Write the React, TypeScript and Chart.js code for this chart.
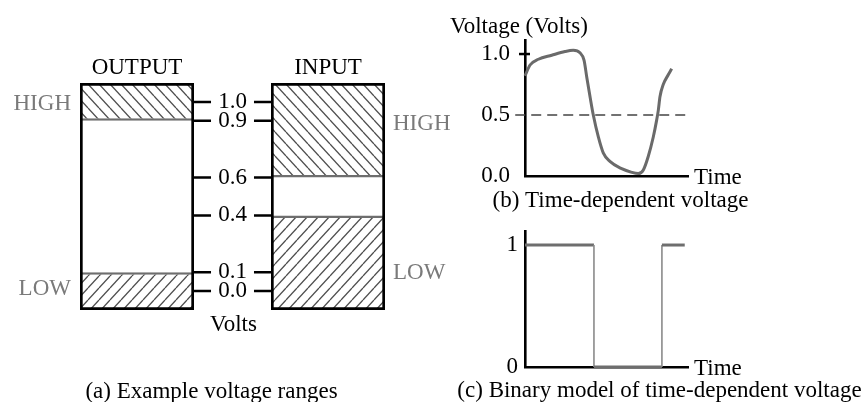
import React, { useEffect, useRef } from "react";
import { Chart, registerables } from "chart.js";

Chart.register(...registerables);

// ---------- data: (a) voltage ranges ----------
const rangeCategories = ["OUTPUT", "INPUT"];
const boxSpan: [number, number][] = [[-0.1, 1.1], [-0.1, 1.1]];
const highRanges: [number, number][] = [[0.9, 1.1], [0.6, 1.1]];
const lowRanges: [number, number][] = [[-0.1, 0.1], [-0.1, 0.4]];
const voltTicks = [1.0, 0.9, 0.6, 0.4, 0.1, 0.0];
const rangeLabels = ["HIGH", "LOW"];

// ---------- data: (b) time-dependent voltage ----------
const waveTime = [0, 0.31, 0.82, 1.64, 2.45, 2.96, 3.37, 3.62, 3.79, 3.99, 4.19, 4.5, 4.8, 5.21, 5.93, 6.55, 6.95, 7.26, 7.56, 7.87, 8.08, 8.18, 8.28, 8.48, 8.79, 9.0];
const waveVolts = [0.82, 0.91, 0.957, 0.99, 1.02, 1.03, 1.01, 0.95, 0.81, 0.65, 0.5, 0.32, 0.19, 0.12, 0.06, 0.03, 0.02, 0.05, 0.16, 0.32, 0.46, 0.54, 0.65, 0.75, 0.83, 0.88];
const thresholdTime = [-0.6, 9.95];
const thresholdVolts = [0.5, 0.5];
const waveTicks = [0, 0.5, 1.0];

// ---------- data: (c) binary model ----------
const binaryTime = [0, 4.23, 4.23, 8.4, 8.4, 9.8];
const binaryValue = [1, 1, 0, 0, 1, 1];
const binaryTicks = [0, 1];

const FAMILY = '"Liberation Serif", "Times New Roman", serif';
const FONT = `23px ${FAMILY}`;

function hatch(dir: "back" | "fwd"): CanvasPattern | string {
  const w = 11, h = 12;
  const c = document.createElement("canvas");
  c.width = w; c.height = h;
  const g = c.getContext("2d");
  if (!g) return "#fff";
  g.fillStyle = "#fff";
  g.fillRect(0, 0, w, h);
  g.strokeStyle = "#4d4d4d";
  g.lineWidth = 1.3;
  for (let k = -1; k <= 1; k++) {
    g.beginPath();
    if (dir === "back") { g.moveTo(k * w, 0); g.lineTo(k * w + w, h); }
    else { g.moveTo(k * w, h); g.lineTo(k * w + w, 0); }
    g.stroke();
  }
  return g.createPattern(c, "repeat") || "#fff";
}

const baseOpts = {
  responsive: false,
  animation: false as const,
  events: [] as any[],
  plugins: { legend: { display: false }, tooltip: { enabled: false }, title: { display: false } },
};

export default function App() {
  const aRef = useRef<HTMLCanvasElement>(null);
  const bRef = useRef<HTMLCanvasElement>(null);
  const cRef = useRef<HTMLCanvasElement>(null);

  useEffect(() => {
    Chart.defaults.font.family = FAMILY;
    Chart.defaults.font.size = 23;
    Chart.defaults.color = "#000";
    const charts: Chart[] = [];

    // ----- (a) -----
    const rangePlugin = {
      id: "rangeAnnot",
      afterDatasetsDraw(chart: any) {
        const ctx = chart.ctx;
        const y = chart.scales.y;
        const x = chart.scales.x;
        const bars = chart.getDatasetMeta(0).data;
        const outL = bars[0].x - bars[0].width / 2;
        const outR = bars[0].x + bars[0].width / 2;
        const inL = bars[1].x - bars[1].width / 2;
        const inR = bars[1].x + bars[1].width / 2;
        const mid = (outR + inL) / 2;
        ctx.save();
        ctx.font = FONT;
        ctx.fillStyle = "#000";
        ctx.textAlign = "center";
        ctx.textBaseline = "alphabetic";
        rangeCategories.forEach((c, i) => ctx.fillText(c, x.getPixelForValue(i), chart.chartArea.top - 9));
        ctx.strokeStyle = "#000";
        ctx.lineWidth = 2.5;
        ctx.textBaseline = "middle";
        voltTicks.forEach((v) => {
          const py = y.getPixelForValue(v);
          ctx.beginPath();
          ctx.moveTo(outR, py); ctx.lineTo(outR + 17, py);
          ctx.moveTo(inL - 17, py); ctx.lineTo(inL, py);
          ctx.stroke();
          ctx.fillText(v.toFixed(1), mid, py);
        });
        ctx.textBaseline = "alphabetic";
        ctx.fillText("Volts", mid + 1, chart.chartArea.bottom + 21);
        ctx.fillText("(a) Example voltage ranges", 211.5, 397.5);
        // HIGH / LOW labels
        ctx.fillStyle = "#7a7a7a";
        ctx.textBaseline = "middle";
        const hiMid = highRanges.map((r) => y.getPixelForValue((r[0] + r[1]) / 2));
        const loMid = lowRanges.map((r) => y.getPixelForValue((r[0] + r[1]) / 2));
        ctx.textAlign = "right";
        ctx.fillText(rangeLabels[0], outL - 9, hiMid[0] + 2);
        ctx.fillText(rangeLabels[1], outL - 9, loMid[0] - 2);
        ctx.textAlign = "left";
        ctx.fillText(rangeLabels[0], inR + 8, hiMid[1] - 6);
        ctx.fillText(rangeLabels[1], inR + 8, loMid[1] + 10);
        ctx.restore();
      },
    };

    if (aRef.current) {
      charts.push(new Chart(aRef.current, {
        type: "bar",
        data: {
          labels: rangeCategories,
          datasets: [
            {
              label: "Range",
              data: boxSpan as any,
              backgroundColor: "rgba(0,0,0,0)",
              borderColor: "#000",
              borderWidth: 2.7,
              borderSkipped: false,
              grouped: false,
              barPercentage: 0.597,
              categoryPercentage: 1,
            } as any,
            {
              label: "HIGH",
              data: highRanges as any,
              backgroundColor: hatch("back"),
              borderColor: "#6e6e6e",
              borderWidth: { top: 0, left: 0, right: 0, bottom: 2.6 },
              borderSkipped: false,
              grouped: false,
              barPercentage: 0.597,
              categoryPercentage: 1,
            } as any,
            {
              label: "LOW",
              data: lowRanges as any,
              backgroundColor: hatch("fwd"),
              borderColor: "#6e6e6e",
              borderWidth: { top: 2.6, left: 0, right: 0, bottom: 0 },
              borderSkipped: false,
              grouped: false,
              barPercentage: 0.597,
              categoryPercentage: 1,
            } as any,
          ],
        },
        options: {
          ...baseOpts,
          layout: { padding: { left: 41.5, right: 440.5, top: 83, bottom: 92 } },
          scales: {
            x: { type: "category", display: false, offset: true },
            y: { type: "linear", display: false, min: -0.1, max: 1.1 },
          },
        } as any,
        plugins: [rangePlugin],
      }));
    }

    const yAxisCommon = (ticksArr: number[], digits: number, pad: number) => ({
      type: "linear",
      position: "left",
      min: 0,
      max: 1.115,
      afterFit: (s: any) => { s.width = 60; },
      afterBuildTicks: (s: any) => { s.ticks = ticksArr.map((v) => ({ value: v })); },
      ticks: {
        padding: pad,
        color: "#000",
        font: { family: FAMILY, size: 23 },
        callback: (v: any) => Number(v).toFixed(digits),
      },
      grid: { display: false, drawTicks: false },
      border: { display: true, color: "#000", width: 2.6 },
    });
    const xAxisCommon = {
      type: "linear",
      position: "bottom",
      min: 0,
      max: 10,
      afterFit: (s: any) => { s.height = 0; },
      ticks: { display: false },
      grid: { display: false, drawTicks: false },
      border: { display: true, color: "#000", width: 2.6 },
    };

    // ----- (b) -----
    const wavePlugin = {
      id: "waveAnnot",
      afterDraw(chart: any) {
        const ctx = chart.ctx;
        const a = chart.chartArea;
        const y = chart.scales.y;
        ctx.save();
        ctx.strokeStyle = "#000";
        ctx.lineWidth = 2.5;
        const py = y.getPixelForValue(waveTicks[waveTicks.length - 1]);
        ctx.beginPath();
        ctx.moveTo(a.left - 6, py); ctx.lineTo(a.left + 5, py);
        ctx.stroke();
        ctx.font = FONT;
        ctx.fillStyle = "#000";
        ctx.textAlign = "left";
        ctx.textBaseline = "alphabetic";
        ctx.fillText("Voltage (Volts)", a.left - 75, a.top - 7);
        ctx.fillText("Time", a.right + 6, a.bottom + 7.5);
        ctx.textAlign = "center";
        ctx.fillText("(b) Time-dependent voltage", 620.5, a.bottom + 31);
        ctx.restore();
      },
    };
    if (bRef.current) {
      charts.push(new Chart(bRef.current, {
        type: "line",
        data: {
          datasets: [
            {
              label: "Voltage",
              data: waveTime.map((t, i) => ({ x: t, y: waveVolts[i] })),
              borderColor: "#6a6a6a",
              borderWidth: 3,
              pointRadius: 0,
              cubicInterpolationMode: "monotone",
              clip: false,
              fill: false,
            } as any,
            {
              label: "Threshold",
              data: thresholdTime.map((t, i) => ({ x: t, y: thresholdVolts[i] })),
              borderColor: "#444",
              borderWidth: 1.6,
              borderDash: [10, 6],
              pointRadius: 0,
              clip: false,
              fill: false,
            } as any,
          ],
        },
        options: {
          ...baseOpts,
          layout: { padding: { left: 465, right: 176, top: 40, bottom: 226 } },
          scales: { x: xAxisCommon, y: yAxisCommon(waveTicks, 1, 15) },
        } as any,
        plugins: [wavePlugin],
      }));
    }

    // ----- (c) -----
    const binPlugin = {
      id: "binAnnot",
      afterDraw(chart: any) {
        const ctx = chart.ctx;
        const a = chart.chartArea;
        ctx.save();
        ctx.font = FONT;
        ctx.fillStyle = "#000";
        ctx.textAlign = "left";
        ctx.textBaseline = "alphabetic";
        ctx.fillText("Time", a.right + 6, a.bottom + 8);
        ctx.textAlign = "center";
        ctx.fillText("(c) Binary model of time-dependent voltage", 659.5, a.bottom + 29.5);
        ctx.restore();
      },
    };
    if (cRef.current) {
      const vert = (c: any) => c.p0.parsed.x === c.p1.parsed.x;
      charts.push(new Chart(cRef.current, {
        type: "line",
        data: {
          datasets: [
            {
              label: "Binary",
              data: binaryTime.map((t, i) => ({ x: t, y: binaryValue[i] })),
              borderColor: "#6e6e6e",
              borderWidth: 3,
              pointRadius: 0,
              tension: 0,
              clip: false,
              fill: false,
              segment: {
                borderWidth: (c: any) => (vert(c) ? 1.6 : 3),
                borderColor: (c: any) => (vert(c) ? "#8a8a8a" : "#6e6e6e"),
              },
            } as any,
          ],
        },
        options: {
          ...baseOpts,
          layout: { padding: { left: 465, right: 176, top: 231, bottom: 35 } },
          scales: { x: xAxisCommon, y: yAxisCommon(binaryTicks, 0, 7) },
        } as any,
        plugins: [binPlugin],
      }));
    }

    return () => charts.forEach((c) => c.destroy());
  }, []);

  const cv: React.CSSProperties = { position: "absolute", left: 0, top: 0, width: 864, height: 402 };
  return (
    <div style={{ position: "absolute", left: 0, top: 0, width: 864, height: 402, background: "#fff", overflow: "hidden" }}>
      <canvas ref={aRef} width={864} height={402} style={cv} />
      <canvas ref={bRef} width={864} height={402} style={cv} />
      <canvas ref={cRef} width={864} height={402} style={cv} />
    </div>
  );
}
